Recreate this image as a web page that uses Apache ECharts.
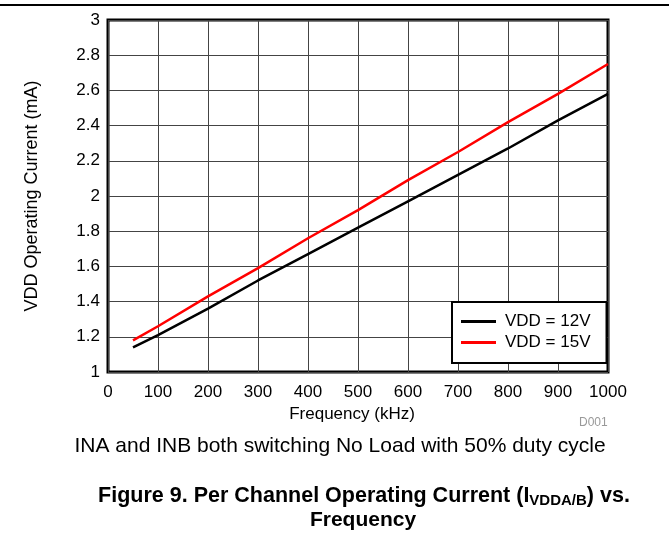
<!DOCTYPE html>
<html>
<head>
<meta charset="utf-8">
<script src="https://cdn.jsdelivr.net/npm/echarts@6/dist/echarts.min.js"></script>
<style>
  html, body { margin: 0; padding: 0; background: #fff; }
  #chart { width: 669px; height: 540px; }
</style>
</head>
<body>
<div id="chart"></div>
<script>
// frequency points (kHz)
const freq = [50, 100, 200, 300, 400, 500, 600, 700, 800, 900, 1000];
// operating current (mA)
const vdd12 = [1.14, 1.21, 1.36, 1.52, 1.67, 1.82, 1.97, 2.12, 2.27, 2.43, 2.58];
const vdd15 = [1.18, 1.26, 1.43, 1.59, 1.76, 1.92, 2.09, 2.25, 2.42, 2.58, 2.75];
const seriesNames = ['VDD = 12V', 'VDD = 15V'];

const font = '"Liberation Sans", Arial, sans-serif';
const chart = echarts.init(document.getElementById('chart'));

const pairs = (ys) => freq.map((x, i) => [x, ys[i]]);

chart.setOption({
  animation: false,
  backgroundColor: '#fff',
  textStyle: { fontFamily: font },
  grid: {
    left: 108, right: 61, top: 20, bottom: 168,
    show: true, borderColor: '#000', borderWidth: 3, backgroundColor: 'transparent'
  },
  xAxis: {
    type: 'value', min: 0, max: 1000, interval: 100,
    name: 'Frequency (kHz)', nameLocation: 'middle', nameGap: 31,
    nameTextStyle: { color: '#000', fontSize: 17, fontFamily: font, padding: [0, 12, 0, 0] },
    axisLine: { show: false }, axisTick: { show: false },
    axisLabel: { color: '#000', fontSize: 17, margin: 12, fontFamily: font, formatter: (v) => String(v) },
    splitLine: { lineStyle: { color: '#444', width: 1 } }
  },
  yAxis: {
    type: 'value', min: 1, max: 3, interval: 0.2,
    name: 'VDD Operating Current (mA)', nameLocation: 'middle', nameGap: 67,
    nameTextStyle: { color: '#000', fontSize: 18, fontFamily: font },
    axisLine: { show: false }, axisTick: { show: false },
    axisLabel: { color: '#000', fontSize: 17, margin: 8, fontFamily: font },
    splitLine: { lineStyle: { color: '#444', width: 1 } }
  },
  legend: {
    orient: 'vertical', left: 452, top: 302,
    backgroundColor: '#fff', borderColor: '#000', borderWidth: 2,
    padding: [11, 16, 12, 9],
    icon: 'rect',
    itemWidth: 35, itemHeight: 3, itemGap: 4,
    textStyle: { color: '#000', fontSize: 17, fontFamily: font, padding: [0, 0, 0, 4] },
    data: seriesNames
  },
  series: [
    {
      name: seriesNames[0], type: 'line', data: pairs(vdd12),
      symbol: 'none', lineStyle: { color: '#000', width: 2.5 }, itemStyle: { color: '#000' }, z: 3
    },
    {
      name: seriesNames[1], type: 'line', data: pairs(vdd15),
      symbol: 'none', lineStyle: { color: '#ff0000', width: 2.5 }, itemStyle: { color: '#ff0000' }, z: 4
    }
  ],
  graphic: [
    // rule across the page top
    { type: 'rect', shape: { x: 0, y: 4, width: 669, height: 2 }, style: { fill: '#000' } },
    {
      type: 'text', x: 579, y: 417,
      style: { text: 'D001', fill: '#999', fontSize: 12, fontFamily: font }
    },
    {
      type: 'text', x: 340, y: 436,
      style: { text: 'INA and INB both switching No Load with 50% duty cycle', fill: '#000', fontSize: 21, fontFamily: font, align: 'center', verticalAlign: 'top' }
    },
    {
      type: 'text', x: 364, y: 484,
      style: {
        text: '{b|Figure 9. Per Channel Operating Current (I}{s|VDDA/B}{b|) vs.}',
        align: 'center', verticalAlign: 'top',
        rich: {
          b: { fontSize: 21.5, fontWeight: 'bold', fill: '#000', fontFamily: font },
          s: { fontSize: 15, fontWeight: 'bold', fill: '#000', fontFamily: font, padding: [9, 0, 0, 0] }
        }
      }
    },
    {
      type: 'text', x: 363, y: 510,
      style: { text: 'Frequency', fill: '#000', fontSize: 21, fontWeight: 'bold', fontFamily: font, align: 'center', verticalAlign: 'top' }
    }
  ]
});
</script>
</body>
</html>
